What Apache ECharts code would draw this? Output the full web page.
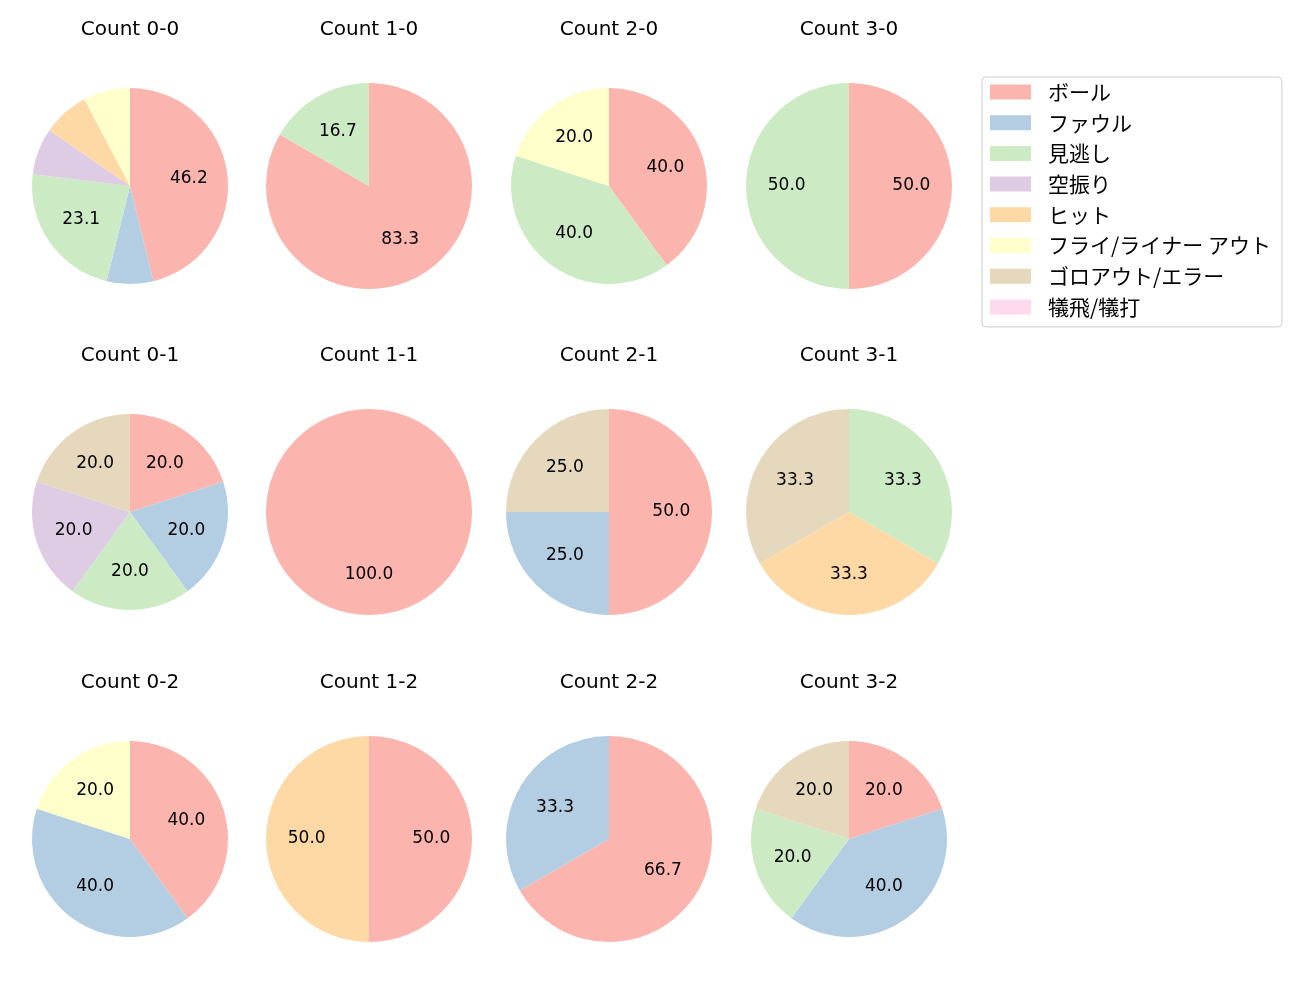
<!DOCTYPE html>
<html lang="ja">
<head>
	<meta charset="UTF-8">
	<title>Count pies</title>
	<style>
		html, body { margin: 0; padding: 0; background: #fff; }
		#main { width: 1300px; height: 1000px; }
	</style>
</head>
<body>
	<div id="main"></div>
	<script src="https://cdn.jsdelivr.net/npm/echarts@6/dist/echarts.min.js"></script>
	<script>
		// 凡例の項目
		var categories = ['ボール', 'ファウル', '見逃し', '空振り', 'ヒット', 'フライ/ライナー アウト', 'ゴロアウト/エラー', '犠飛/犠打'];
		var countNames = ['0-0', '1-0', '2-0', '3-0', '0-1', '1-1', '2-1', '3-1', '0-2', '1-2', '2-2', '3-2'];
		// 各カウントの件数 (categories の順)
		var c00 = [6, 1, 3, 1, 1, 1, 0, 0];
		var c10 = [5, 0, 1, 0, 0, 0, 0, 0];
		var c20 = [2, 0, 2, 0, 0, 1, 0, 0];
		var c30 = [1, 0, 1, 0, 0, 0, 0, 0];
		var c01 = [1, 1, 1, 1, 0, 0, 1, 0];
		var c11 = [1, 0, 0, 0, 0, 0, 0, 0];
		var c21 = [2, 1, 0, 0, 0, 0, 1, 0];
		var c31 = [0, 0, 1, 0, 1, 0, 1, 0];
		var c02 = [2, 2, 0, 0, 0, 1, 0, 0];
		var c12 = [1, 0, 0, 0, 1, 0, 0, 0];
		var c22 = [2, 1, 0, 0, 0, 0, 0, 0];
		var c32 = [1, 2, 1, 0, 0, 0, 1, 0];
		var countData = [c00, c10, c20, c30, c01, c11, c21, c31, c02, c12, c22, c32];

		// レイアウト
		var colors = ['#fbb4ae', '#b3cde3', '#ccebc5', '#decbe4', '#fed9a6', '#ffffcc', '#e5d8bd', '#fddaec'];
		var colX = [130, 369, 609, 849];
		var rowY = [186, 512, 839];
		var radii = [98, 103, 98, 103, 98, 103, 103, 103, 98, 103, 103, 98];
		var latin = '"DejaVu Sans", "Noto Sans CJK JP", sans-serif';

		var myChart = echarts.init(document.getElementById('main'), null, {renderer: 'canvas'});

		var titles = [], series = [];
		countData.forEach(function (vals, i) {
			var cx = colX[i % 4], cy = rowY[Math.floor(i / 4)], r = radii[i];
			var total = vals.reduce(function (a, b) { return a + b; }, 0);
			var items = vals.map(function (v, k) {
				return {name: categories[k], value: v};
			});
			titles.push({
				text: 'Count ' + countNames[i],
				left: cx, top: cy - 166,
				textAlign: 'center',
				padding: 0,
				textStyle: {fontFamily: latin, fontSize: 20, fontWeight: 'normal', color: '#000'}
			});
			series.push({
				type: 'pie',
				center: [cx, cy],
				radius: r,
				startAngle: 90,
				clockwise: true,
				silent: true,
				animation: false,
				data: items,
				label: {show: false},
				labelLine: {show: false},
				itemStyle: {borderWidth: 0},
				emphasis: {disabled: true}
			});
			// ラベル用 (中心から約 0.6r の位置)
			series.push({
				type: 'pie',
				center: [cx, cy],
				radius: [r * 0.2 - 5, r],
				startAngle: 90,
				clockwise: true,
				silent: true,
				animation: false,
				avoidLabelOverlap: false,
				data: items.map(function (d) {
					var pct = total ? d.value / total * 100 : 0;
					return {
						name: d.name, value: d.value,
						itemStyle: {color: 'rgba(0,0,0,0)'},
						label: {show: pct >= 10, formatter: pct.toFixed(1)}
					};
				}),
				label: {position: 'inside', fontFamily: latin, fontSize: 17, color: '#000'},
				labelLine: {show: false},
				itemStyle: {borderWidth: 0},
				emphasis: {disabled: true}
			});
		});

		var option = {
			color: colors,
			animation: false,
			title: titles,
			legend: {
				orient: 'vertical',
				left: 982, top: 77,
				padding: [4.5, 11, 9.5, 8],
				itemWidth: 41, itemHeight: 15,
				itemGap: 9.7,
				icon: 'rect',
				selectedMode: false,
				borderColor: '#cccccc', borderWidth: 1, borderRadius: 4,
				data: categories,
				textStyle: {fontFamily: '"Noto Sans CJK JP", sans-serif', fontSize: 21, color: '#000', padding: [0, 0, 0, 12]}
			},
			series: series
		};
		myChart.setOption(option);
	</script>
</body>
</html>
